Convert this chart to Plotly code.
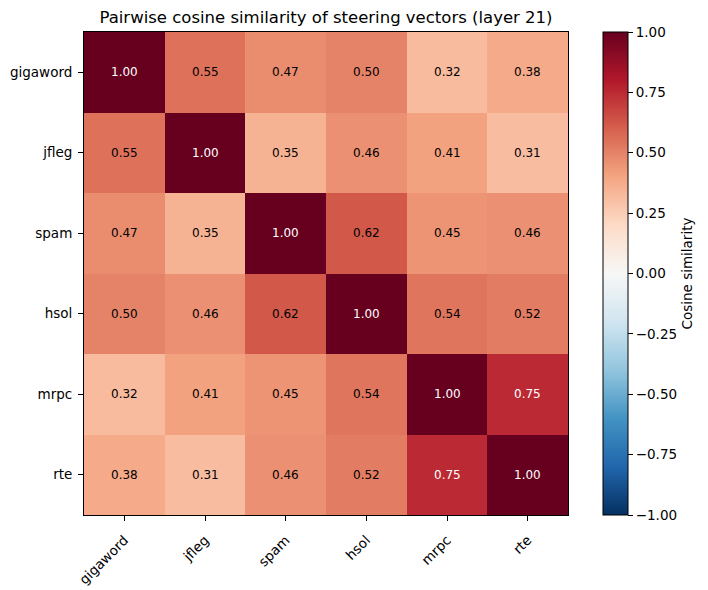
import plotly.graph_objects as go

labels = ["gigaword", "jfleg", "spam", "hsol", "mrpc", "rte"]
values = [
    [1.00, 0.55, 0.47, 0.50, 0.32, 0.38],
    [0.55, 1.00, 0.35, 0.46, 0.41, 0.31],
    [0.47, 0.35, 1.00, 0.62, 0.45, 0.46],
    [0.50, 0.46, 0.62, 1.00, 0.54, 0.52],
    [0.32, 0.41, 0.45, 0.54, 1.00, 0.75],
    [0.38, 0.31, 0.46, 0.52, 0.75, 1.00],
]
cbar_ticks = [-1.0, -0.75, -0.5, -0.25, 0.0, 0.25, 0.5, 0.75, 1.0]

rdbu_r = ["#053061", "#2166ac", "#4393c3", "#92c5de", "#d1e5f0", "#f7f7f7",
          "#fddbc7", "#f4a582", "#d6604d", "#b2182b", "#67001f"]
colorscale = [[i / (len(rdbu_r) - 1), c] for i, c in enumerate(rdbu_r)]

FONT = "DejaVu Sans"
W, H = 708, 590
L, R, T, B = 84, 568, 32, 515

fig = go.Figure(go.Heatmap(
    z=values, x=labels, y=labels, zmin=-1, zmax=1, colorscale=colorscale,
    xgap=0, ygap=0,
    colorbar=dict(
        x=(603 - L) / (R - L), xanchor="left", xref="paper",
        y=0.5, yanchor="middle", len=1, lenmode="fraction",
        thickness=25, thicknessmode="pixels",
        outlinecolor="black", outlinewidth=1,
        tickvals=cbar_ticks, tickformat=".2f", ticks="outside", ticklen=5,
        tickcolor="black", tickfont=dict(family=FONT, size=13.5, color="black"),
        title=dict(text="Cosine similarity", side="right",
                   font=dict(family=FONT, size=13.5, color="black")),
        xpad=0, ypad=0,
    ),
    hoverinfo="skip",
))

annotations = []
for i, row in enumerate(values):
    for j, v in enumerate(row):
        annotations.append(dict(
            x=labels[j], y=labels[i], xref="x", yref="y", text=f"{v:.2f}",
            showarrow=False,
            font=dict(family=FONT, size=12, color="white" if v > 0.7 else "black"),
        ))

fig.update_layout(
    width=W, height=H,
    margin=dict(l=L, r=W - R, t=T, b=H - B, pad=0, autoexpand=False),
    paper_bgcolor="white", plot_bgcolor="white",
    font=dict(family=FONT, color="black"),
    title=dict(text="Pairwise cosine similarity of steering vectors (layer 21)",
               x=(L + R) / 2 / W, xanchor="center", xref="container",
               y=1 - 17 / H, yanchor="middle", yref="container",
               font=dict(family=FONT, size=16.5, color="black")),
    annotations=annotations,
    xaxis=dict(showline=True, mirror=True, linecolor="black", linewidth=1,
               ticks="outside", ticklen=5, tickcolor="black", tickangle=-45,
               ticklabelstandoff=6, automargin=False,
               tickfont=dict(family=FONT, size=13.5), showgrid=False, zeroline=False),
    yaxis=dict(showline=True, mirror=True, linecolor="black", linewidth=1,
               ticks="outside", ticklen=5, tickcolor="black", autorange="reversed",
               ticklabelstandoff=3, automargin=False,
               tickfont=dict(family=FONT, size=13.5), showgrid=False, zeroline=False),
)

fig.write_html("out.html")
